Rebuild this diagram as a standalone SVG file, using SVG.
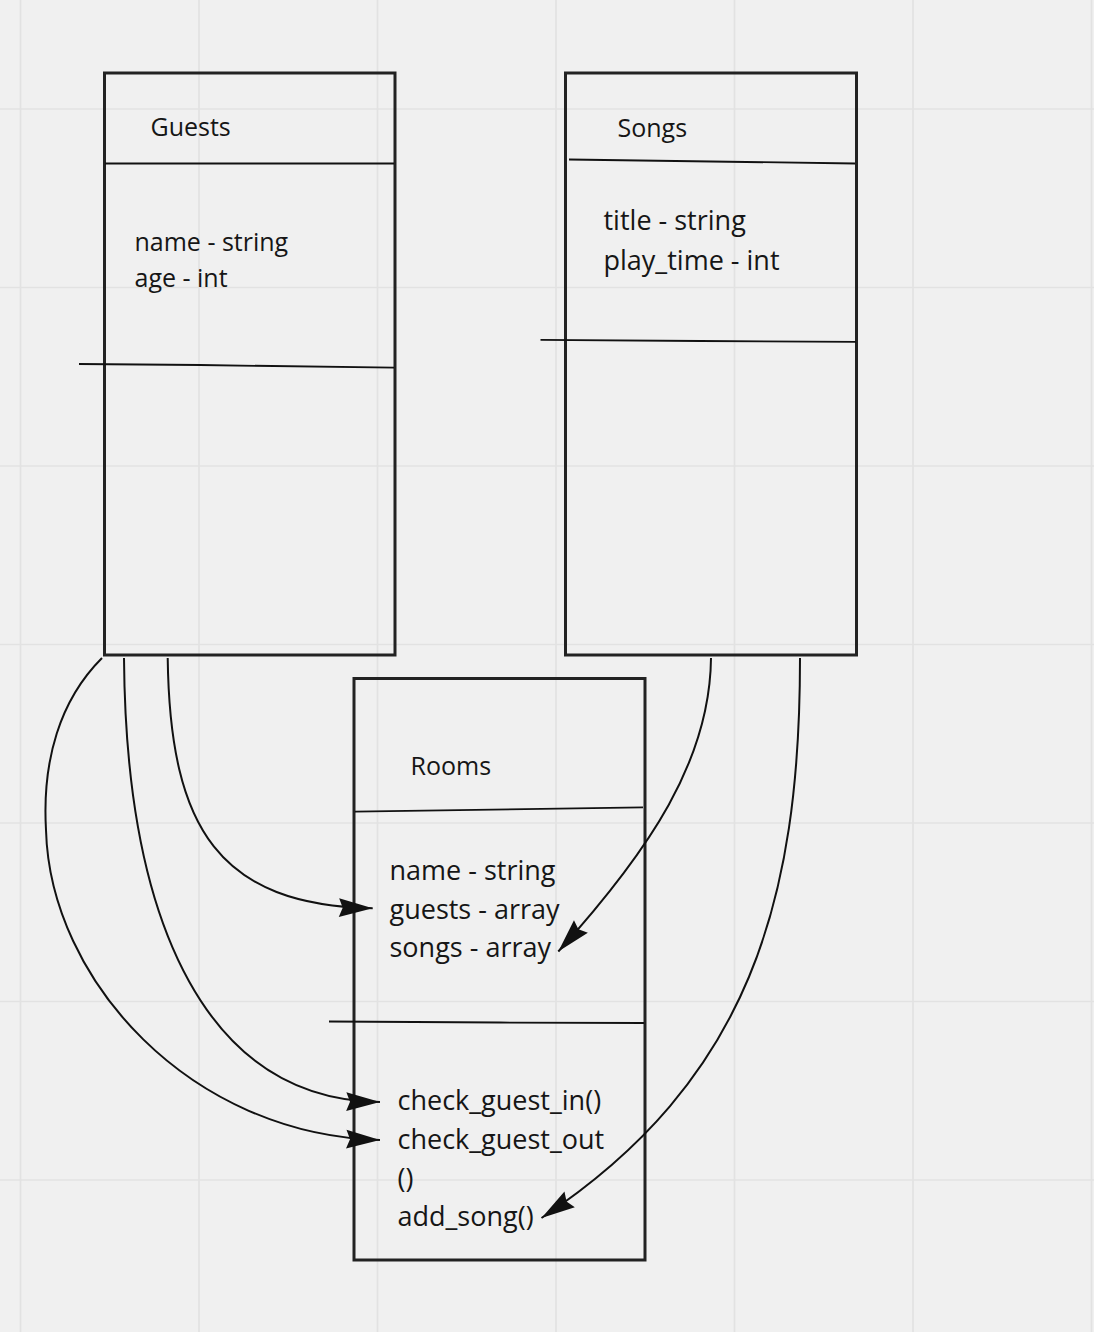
<svg xmlns="http://www.w3.org/2000/svg" width="1094" height="1332" viewBox="0 0 1094 1332">
<defs>
<style>
.grid{stroke:#e2e2e2;stroke-width:1.6;fill:none}
.box{fill:none;stroke:#222;stroke-width:3}
.div{stroke:#111;stroke-width:1.8;fill:none}
.title{font-family:"Open Sans","Liberation Sans",sans-serif;font-size:25px;fill:#161616}
.f25{font-family:"Open Sans","Liberation Sans",sans-serif;font-size:25px;fill:#161616}
.f27{font-family:"Open Sans","Liberation Sans",sans-serif;font-size:27px;fill:#161616}
.conn{fill:none;stroke:#111;stroke-width:2}
</style>
<marker id="arr" markerUnits="userSpaceOnUse" markerWidth="40" markerHeight="40" viewBox="-30 -10 32 20" refX="0" refY="0" orient="auto">
<path d="M0,0 L-27,-7.5 L-24,0 L-27,7.5 Z" fill="#111"/>
</marker>
</defs>
<rect x="0" y="0" width="1094" height="1332" fill="#f0f0f0"/>
<g id="grid">
<path class="grid" d="M20.5,0V1332M199,0V1332M377.5,0V1332M556,0V1332M734.5,0V1332M913,0V1332M1091.5,0V1332"/>
<path class="grid" d="M0,109H1094M0,287.5H1094M0,466H1094M0,644.5H1094M0,823H1094M0,1001.5H1094M0,1180H1094"/>
</g>
<g id="guests">
<rect class="box" x="104.5" y="73" width="290.5" height="582"/>
<line class="div" x1="105" y1="163.5" x2="394" y2="163.5"/>
<path class="div" d="M79,364 L200,365 L394,367.7"/>
<text class="title" x="150.5" y="136">Guests</text>
<text class="f25" x="134.5" y="250.5">name - string</text>
<text class="f25" x="134.5" y="286.5">age - int</text>
</g>
<g id="songs">
<rect class="box" x="565.5" y="73" width="291" height="582"/>
<line class="div" x1="569" y1="159.5" x2="855" y2="163.5"/>
<path class="div" d="M540.5,339.8 L700,341 L856,341.8"/>
<text class="title" x="617.5" y="136.5">Songs</text>
<text class="f27" x="603.5" y="230">title - string</text>
<text class="f27" x="603.5" y="269.5">play_time - int</text>
</g>
<g id="rooms">
<rect class="box" x="354" y="678.5" width="291" height="581.5"/>
<line class="div" x1="355" y1="811.7" x2="643" y2="807.3"/>
<path class="div" d="M329,1021.5 L500,1022.5 L644,1023"/>
<text class="title" x="410.5" y="775">Rooms</text>
<text class="f27" x="389.5" y="880">name - string</text>
<text class="f27" x="389.5" y="918.5">guests - array</text>
<text class="f27" x="389.5" y="957">songs - array</text>
<text class="f27" x="397.5" y="1110">check_guest_in()</text>
<text class="f27" x="397.5" y="1148.5">check_guest_out</text>
<text class="f27" x="397.5" y="1187.5">()</text>
<text class="f27" x="397.5" y="1225.5">add_song()</text>
</g>
<g id="connectors">
<path class="conn" marker-end="url(#arr)" d="M167.7,658 C170,830 220,905 372.7,908.3"/>
<path class="conn" marker-end="url(#arr)" d="M124,658 C126,930 210,1100 380,1102"/>
<path class="conn" marker-end="url(#arr)" d="M102,658 C60,700 42,760 46,830 C50,980 190,1135 380,1140"/>
<path class="conn" marker-end="url(#arr)" d="M711,658 C710,760 650,850 558.3,951.5"/>
<path class="conn" marker-end="url(#arr)" d="M800,658 C800,900 750,1080 541.5,1218"/>
</g>
</svg>
